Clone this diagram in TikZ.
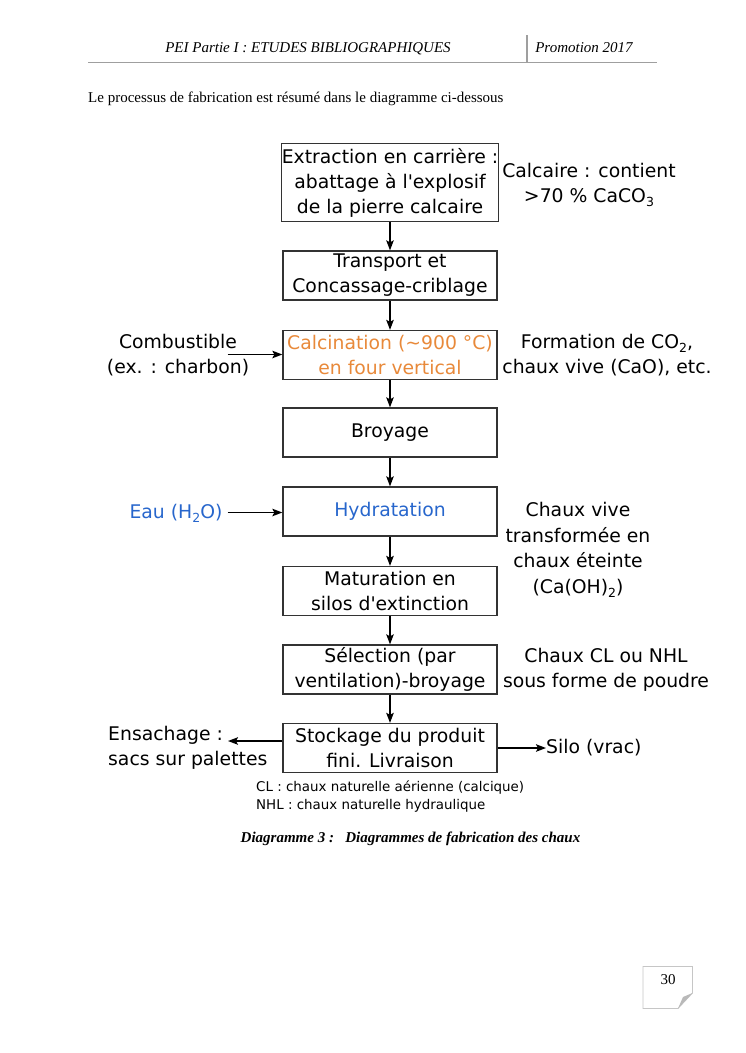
\documentclass[tikz,border=0pt]{standalone}
\usepackage{fontspec}
\setmainfont{Liberation Serif}
\newfontfamily\dv{DejaVu Sans}
\usetikzlibrary{arrows.meta}
\definecolor{calccol}{HTML}{E8893A}
\definecolor{hydrcol}{HTML}{2766CC}
\definecolor{boxline}{HTML}{333333}
\newcommand\mysub[1]{\raisebox{-0.4ex}{\fontsize{12.5}{12.5}\selectfont #1}}
\newcommand\mytilde{{\char"7E\relax}}
\begin{document}
\begin{tikzpicture}[x=1pt,y=-1pt,
 stepbox/.style={draw=boxline, line width=1.3pt, minimum width=214pt, minimum height=49pt, inner sep=0pt, align=center, font=\dv\fontsize{18.8}{25}\selectfont},
 lbl/.style={inner sep=0pt, align=center, font=\dv\fontsize{18.8}{25.5}\selectfont},
 note/.style={inner sep=0pt, align=left, font=\dv\fontsize{13.4}{18}\selectfont},
 serif/.style={inner sep=0pt, font=\fontsize{15}{18}\selectfont},
 flow/.style={-{Stealth[length=10pt,width=7.5pt,inset=2pt]}, line width=1.4pt, black}]
\useasboundingbox (0,0) rectangle (745,1053);
% header
\node[serif, anchor=base] (htitle) at (308,52.5) {\itshape PEI Partie I : ETUDES BIBLIOGRAPHIQUES};
\node[serif, anchor=base] (hpromo) at (584,52.5) {\itshape Promotion 2017};
\coordinate (hl1) at (88,62.5);
\coordinate (hl2) at (657,62.5);
\draw[gray!75, line width=1.5pt] (hl1) -- (hl2);
\coordinate (sep1) at (527,35);
\coordinate (sep2) at (527,62);
\draw[gray!75, line width=2.7pt] (sep1) -- (sep2);
% intro
\node[serif, anchor=base west] (intro) at (88,102) {Le processus de fabrication est résumé dans le diagramme ci-dessous};
% boxes
\node[stepbox, minimum height=78pt] (b1) at (390,182.5) {Extraction en carrière :\\abattage à l'explosif\\de la pierre calcaire};
\node[stepbox] (b2) at (390,275.5) {Transport et\\Concassage-criblage};
\node[stepbox, text=calccol] (b3) at (390,355) {Calcination (\mytilde900 °C)\\en four vertical};
\node[stepbox] (b4) at (390,432.5) {Broyage};
\node[stepbox, text=hydrcol] (b5) at (390,511.5) {Hydratation};
\node[stepbox] (b6) at (390,591) {Maturation en\\silos d'extinction};
\node[stepbox] (b7) at (390,669.5) {Sélection (par\\ventilation)-broyage};
\node[stepbox] (b8) at (390,748) {Stockage du produit\\fini. Livraison};
\draw[flow] (b1) -- (b2);
\draw[flow] (b2) -- (b3);
\draw[flow] (b3) -- (b4);
\draw[flow] (b4) -- (b5);
\draw[flow] (b5) -- (b6);
\draw[flow] (b6) -- (b7);
\draw[flow] (b7) -- (b8);
% side labels
\node[lbl] (calc) at (589,185) {Calcaire : contient\\>70 \% CaCO\mysub{3}};
\node[lbl] (form) at (607,355) {Formation de CO\mysub{2},\\chaux vive (CaO), etc.};
\node[lbl] (comb) at (178,355) {Combustible\\(ex. : charbon)};
\node[lbl, text=hydrcol] (eau) at (176,513) {Eau (H\mysub{2}O)};
\node[lbl] (vive) at (578,550) {Chaux vive\\transformée en\\chaux éteinte\\(Ca(OH)\mysub{2})};
\node[lbl] (clnhl) at (606,670) {Chaux CL ou NHL\\sous forme de poudre};
\node[lbl, align=left, anchor=west] (ensa) at (108,748) {Ensachage :\\sacs sur palettes};
\node[lbl, anchor=west] (silo) at (546,748) {Silo (vrac)};
\coordinate (combend) at (227.5,354.5);
\coordinate (eauend) at (227.5,512.5);
\coordinate (ensaend) at (228,741);
\draw[flow] (combend) -- (combend -| b3.west);
\draw[flow] (eauend) -- (eauend -| b5.west);
\draw[flow] (ensaend -| b8.west) -- (ensaend);
\draw[flow] (b8.east) -- (silo.west);
% footnote
\node[note, anchor=north west] (fn) at (256,781) {CL : chaux naturelle aérienne (calcique)\\NHL : chaux naturelle hydraulique};
% caption
\node[serif, anchor=base] (cap) at (410.5,842) {\bfseries\itshape Diagramme 3 :\ \ \ Diagrammes de fabrication des chaux};
% page number
\draw[gray!45, line width=0.8pt, fill=white] (643,966.5) -- (692.5,966.5) -- (692.5,993) -- (678,1008.5) -- (643,1008.5) -- cycle;
\fill[gray!55] (692.5,993) -- (683,997) -- (678,1008.5) -- cycle;
\node[serif] (pnum) at (668,980) {30};
\end{tikzpicture}
\end{document}
